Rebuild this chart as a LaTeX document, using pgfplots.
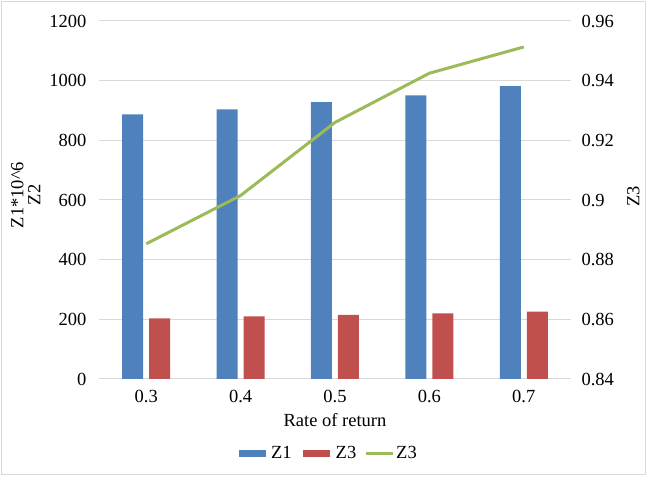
\documentclass[border=0pt]{standalone}
\usepackage{fontspec}
\setmainfont{Liberation Serif}
\newfontfamily\tnr{Liberation Serif}
\usepackage{pgfplots}
\pgfplotsset{compat=1.18}
\definecolor{zblue}{HTML}{4F81BD}
\definecolor{zred}{HTML}{C0504D}
\definecolor{zgreen}{HTML}{9BBB59}
\definecolor{gridc}{HTML}{D9D9D9}
\newcommand{\chartfont}{\tnr\fontsize{18.5bp}{17bp}\selectfont}
\begin{document}
\begin{tikzpicture}[font=\chartfont]
\useasboundingbox (0,0) rectangle (650bp,477bp);
\draw[gridc, line width=1bp] (1.5bp,2bp) rectangle (645bp,475bp);
\pgfplotsset{
  common/.style={
    at={(99bp,98bp)}, anchor=south west, scale only axis,
    width=472bp, height=358bp,
    xmin=-0.5, xmax=4.5,
    axis line style={draw=none}, major tick length=0pt,
    /pgf/number format/assume math mode=true,
    /pgf/number format/1000 sep={},
    every tick label/.append style={font=\chartfont},
    label style={font=\chartfont},
  }
}
\begin{axis}[common,
  ymin=0, ymax=1200, ytick={0,200,400,600,800,1000,1200},
  xtick={0,1,2,3,4}, xticklabels={0.3,0.4,0.5,0.6,0.7},
  ymajorgrids, grid style={gridc, line width=1bp},
  yticklabel style={xshift=-9bp},
  xticklabel style={yshift=-8bp},
  xlabel={Rate of return},
  xlabel style={at={(axis description cs:0.5,-0.115)}, anchor=center},
  ylabel={Z1*10\^{}6\\Z2},
  ylabel style={align=center, at={(axis description cs:-0.155,0.514)}, anchor=center},
  ybar, bar width=21bp,
]
\addplot[fill=zblue, draw=none, bar shift=-13.5bp] coordinates {(0,887) (1,904) (2,928) (3,951) (4,982)};
\addplot[fill=zred, draw=none, bar shift=13.5bp] coordinates {(0,203) (1,210) (2,215) (3,220) (4,226)};
\end{axis}
\begin{axis}[common,
  ymin=0.84, ymax=0.96, ytick={0.84,0.86,0.88,0.9,0.92,0.94,0.96},
  yticklabels={0.84,0.86,0.88,0.9,0.92,0.94,0.96},
  xtick=\empty,
  axis y line*=right,
  yticklabel style={xshift=7bp},
  ylabel={Z3},
  ylabel style={at={(axis description cs:1.132,0.511)}, anchor=center},
  legend columns=3,
  legend style={draw=none, at={(axis description cs:0.483,-0.207)}, anchor=center,
    font=\chartfont,
    /tikz/every even column/.append style={column sep=6bp}, inner sep=0pt,
    cells={anchor=west}},
  legend image code/.code={\draw[#1] (0bp,0bp) -- (27bp,0bp);},
]
\addlegendimage{zblue, line width=7bp}
\addlegendentry{Z1}
\addlegendimage{zred, line width=7bp}
\addlegendentry{Z3}
\addplot[zgreen, line width=3bp] coordinates {(0,0.8853) (1,0.9015) (2,0.926) (3,0.9425) (4,0.9513)};
\addlegendentry{Z3}
\end{axis}
\end{tikzpicture}
\end{document}
